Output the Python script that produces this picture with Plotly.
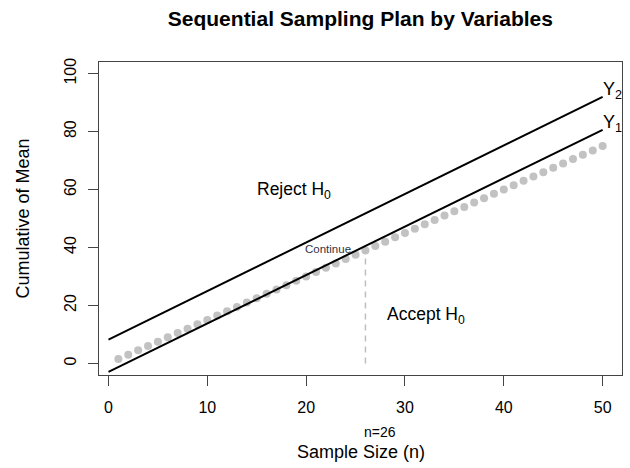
import plotly.graph_objects as go

# Observed cumulative means for each sample n = 1..50
sample_n = list(range(1, 51))
cum_mean = [1.5, 3.0, 4.5, 6.0, 7.5, 9.0, 10.5, 12.0, 13.5, 15.0,
            16.5, 18.0, 19.5, 21.0, 22.5, 24.0, 25.5, 27.0, 28.5, 30.0,
            31.5, 33.0, 34.5, 36.0, 37.5, 39.0, 40.5, 42.0, 43.5, 45.0,
            46.5, 48.0, 49.5, 51.0, 52.5, 54.0, 55.5, 57.0, 58.5, 60.0,
            61.5, 63.0, 64.5, 66.0, 67.5, 69.0, 70.5, 72.0, 73.5, 75.0]

# Decision boundaries (acceptance line Y1, rejection line Y2)
line_n = [0, 50]
y1_line = [-2.9, 80.6]
y2_line = [8.2, 92.0]

# Stopping point
stop_n = 26
stop_value = 39.0

x_ticks = [0, 10, 20, 30, 40, 50]
y_ticks = [0, 20, 40, 60, 80, 100]

FONT = "Liberation Sans, Arial, sans-serif"

fig = go.Figure()

fig.add_trace(go.Scatter(
    x=sample_n, y=cum_mean, mode="markers",
    marker=dict(size=8, color="#C2C2C2"), hoverinfo="skip", showlegend=False))

fig.add_trace(go.Scatter(
    x=line_n, y=y1_line, mode="lines",
    line=dict(color="black", width=2), showlegend=False))
fig.add_trace(go.Scatter(
    x=line_n, y=y2_line, mode="lines",
    line=dict(color="black", width=2), showlegend=False))

fig.add_trace(go.Scatter(
    x=[stop_n, stop_n], y=[0, stop_value], mode="lines",
    line=dict(color="#BEBEBE", width=1.5, dash="6px,5px"), showlegend=False))

annotations = [
    dict(x=49.8, y=94.3, text="Y<sub>2</sub>", xanchor="left", yanchor="middle",
         font=dict(size=18)),
    dict(x=49.8, y=82.7, text="Y<sub>1</sub>", xanchor="left", yanchor="middle",
         font=dict(size=18)),
    dict(x=18.8, y=59.8, text="Reject H<sub>0</sub>", xanchor="center", yanchor="middle",
         font=dict(size=17.5)),
    dict(x=32.1, y=16.5, text="Accept H<sub>0</sub>", xanchor="center", yanchor="middle",
         font=dict(size=17.5)),
    dict(x=24.7, y=39.6, text="Continue", xanchor="right", yanchor="middle",
         font=dict(size=11.5, color="#333344")),
    # labels below the x axis
    dict(x=27.5, y=0, yref="paper", text=f"n={stop_n}", xanchor="center",
         yanchor="middle", yshift=-57, font=dict(size=14)),
    dict(x=0.5, xref="paper", y=0, yref="paper", text="Sample Size (n)",
         xanchor="center", yanchor="middle", yshift=-77, font=dict(size=18)),
    dict(x=0, xref="paper", y=0.5, yref="paper", text="Cumulative of Mean",
         textangle=-90, xanchor="center", yanchor="middle", xshift=-77,
         font=dict(size=18)),
]
for a in annotations:
    a.setdefault("xref", "x")
    a.setdefault("yref", "y")
    a["showarrow"] = False
    fig.add_annotation(**a)

axis_common = dict(
    showgrid=False, zeroline=False, showline=True, mirror=True,
    linecolor="#444444", linewidth=1, ticks="outside", ticklen=10,
    tickcolor="#444444", tickwidth=1, tickfont=dict(size=16, color="black"))

fig.update_xaxes(range=[-0.96, 51.96], tickvals=x_ticks, ticklabelstandoff=8,
                 **axis_common)
fig.update_yaxes(range=[-4, 104], tickvals=y_ticks, tickangle=-90,
                 ticklabelstandoff=6, **axis_common)

fig.update_layout(
    width=630, height=468,
    margin=dict(l=99, r=8, t=62, b=93),
    paper_bgcolor="white", plot_bgcolor="white",
    font=dict(family=FONT, color="black"),
    title=dict(text="<b>Sequential Sampling Plan by Variables</b>",
               x=0.572, xanchor="center", y=1 - 19 / 468, yanchor="middle",
               yref="container", font=dict(size=21, color="black")),
)

fig.write_html("out.html")
